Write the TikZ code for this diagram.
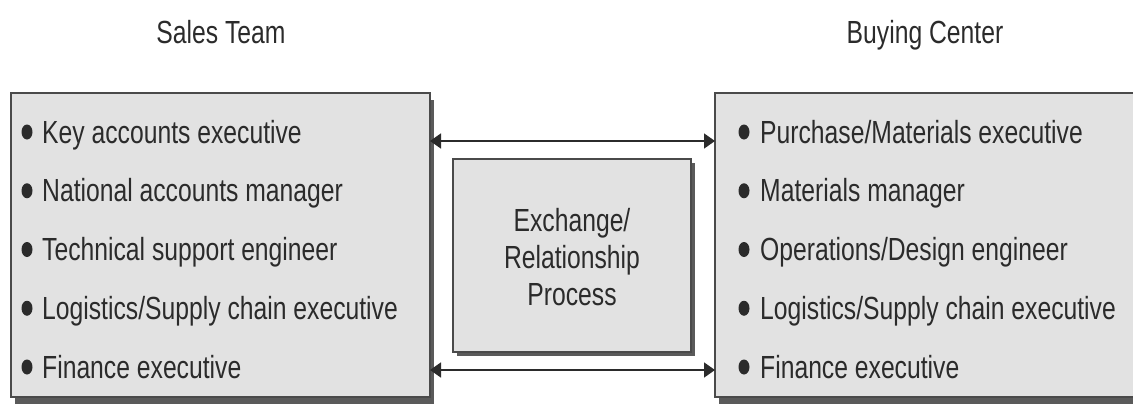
\documentclass[tikz,border=0pt]{standalone}
\usepackage{fontspec}
\setmainfont{Liberation Sans}[FakeStretch=0.772]
\usetikzlibrary{arrows.meta,shapes.geometric}

\definecolor{inkc}{HTML}{2B2B2B}
\definecolor{panelc}{HTML}{E2E2E2}
\definecolor{edgec}{HTML}{4A4A4A}
\definecolor{shadec}{HTML}{5A5A5A}

\tikzset{
  panel/.style={draw=edgec, line width=1.1pt, fill=panelc, inner sep=0pt, outer sep=0pt, anchor=north west},
  shade/.style={fill=shadec, draw=none, inner sep=0pt, outer sep=0pt, anchor=north west},
  label/.style={text=inkc, inner sep=0pt, font=\fontsize{32pt}{37pt}\selectfont},
  item/.style={label, anchor=base west},
  dot/.style={shape=ellipse, fill=inkc, draw=none, inner sep=0pt, minimum width=11pt, minimum height=15pt},
  link/.style={draw=inkc, line width=1.6pt, {Triangle[length=11pt,width=15pt]}-{Triangle[length=11pt,width=15pt]}}
}

\begin{document}
\begin{tikzpicture}[x=1pt, y=-1pt]
\useasboundingbox (0,0) rectangle (1133,405);

% headings
\node[label, anchor=base] (team) at (221,43) {Sales Team};
\node[label, anchor=base] (center) at (925,43) {Buying Center};

% drop shadows
\node[shade, minimum width=419pt, minimum height=304pt] (Ls) at (15,100) {};
\node[shade, minimum width=440pt, minimum height=304pt] (Rs) at (719,100) {};
\node[shade, minimum width=238pt, minimum height=193pt] (Cs) at (457,163) {};

% panels
\node[panel, minimum width=419pt, minimum height=304pt] (L) at (11,93) {};
\node[panel, minimum width=440pt, minimum height=304pt] (R) at (715,93) {};
\node[panel, minimum width=238pt, minimum height=193pt] (C) at (453,159) {};

% middle panel text
\node[label, anchor=base] (c1) at (572,231) {Exchange/};
\node[label, anchor=base] (c2) at (572,268) {Relationship};
\node[label, anchor=base] (c3) at (572,305) {Process};

% sales team roles
\node[dot] (lb1) at (27,132) {};
\node[dot] (lb2) at (27,190.75) {};
\node[dot] (lb3) at (27,249.5) {};
\node[dot] (lb4) at (27,308.25) {};
\node[dot] (lb5) at (27,367) {};
\node[item] (l1) at (42,143) {Key accounts executive};
\node[item] (l2) at (42,201.75) {National accounts manager};
\node[item] (l3) at (42,260.5) {Technical support engineer};
\node[item] (l4) at (42,319.25) {Logistics/Supply chain executive};
\node[item] (l5) at (42,378) {Finance executive};

% buying center roles
\node[dot] (rb1) at (744,132) {};
\node[dot] (rb2) at (744,190.75) {};
\node[dot] (rb3) at (744,249.5) {};
\node[dot] (rb4) at (744,308.25) {};
\node[dot] (rb5) at (744,367) {};
\node[item] (r1) at (760,143) {Purchase/Materials executive};
\node[item] (r2) at (760,201.75) {Materials manager};
\node[item] (r3) at (760,260.5) {Operations/Design engineer};
\node[item] (r4) at (760,319.25) {Logistics/Supply chain executive};
\node[item] (r5) at (760,378) {Finance executive};

% exchange arrows
\coordinate (upper) at (572,141);
\coordinate (lower) at (572,370);
\draw[link] (L.east |- upper) -- (R.west |- upper);
\draw[link] (L.east |- lower) -- (R.west |- lower);
\end{tikzpicture}
\end{document}
